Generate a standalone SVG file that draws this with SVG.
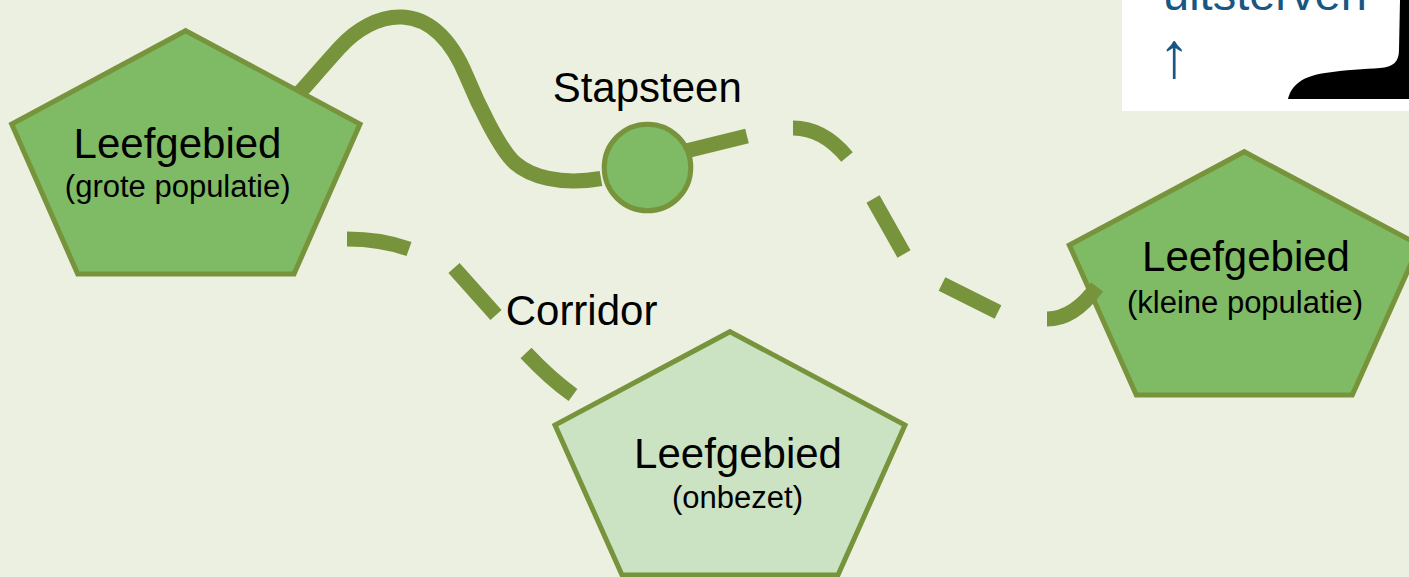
<svg xmlns="http://www.w3.org/2000/svg" width="1409" height="577" viewBox="0 0 1409 577">
<style>
.lbl{font-family:"Liberation Sans",Arial,sans-serif;fill:#000}
.big{font-size:42px}
.small{font-size:31px}
.pent{fill:#7FBA64;stroke:#77933C;stroke-width:5;stroke-linejoin:miter}
.pent.empty{fill:#CBE3C2}
.conn{fill:none;stroke:#77933C;stroke-width:15;stroke-linecap:butt}
.inset{font-family:"Liberation Sans",Arial,sans-serif;fill:#195782}
</style>
<rect x="0" y="0" width="1409" height="577" fill="#EBF0E0"/>
<g id="inset">
<rect x="1122" y="-5" width="300" height="116" fill="#FFFFFF"/>
<path d="M 1400,0 L 1409,0 L 1409,99 L 1288,99 C 1291,88 1298,77 1325,73 C 1345,70 1365,69 1380,68 C 1393,67 1399,62 1399,50 Z" fill="#000"/>
<text class="inset" x="1163" y="10" font-size="47">uitsterven</text>
<text class="inset" x="1158" y="76.5" font-size="64">↑</text>
</g>
<g id="node-klein">
<polygon class="pent" points="1244.3,151.7 1419.3,245 1352.3,395 1136.3,395 1069.3,245"/>
<text class="lbl big" x="1246" y="270.7" text-anchor="middle">Leefgebied</text>
<text class="lbl small" x="1245" y="313" text-anchor="middle">(kleine populatie)</text>
</g>
<g id="node-onbezet">
<polygon class="pent empty" points="730,331.7 905,425 838,575 622,575 555,425"/>
<text class="lbl big" x="738" y="468.3" text-anchor="middle">Leefgebied</text>
<text class="lbl small" x="737.5" y="508" text-anchor="middle">(onbezet)</text>
</g>
<g id="node-stapsteen">
<circle cx="647.5" cy="167.5" r="43.3" fill="#7FBA64" stroke="#77933C" stroke-width="5"/>
<text class="lbl big" x="552.7" y="101.7">Stapsteen</text>
</g>
<g id="connectors">
<path class="conn" d="M 292,100 L 302.7,89.3 C 311,80 328,60.5 340,47.3 C 372,12 432,-8 466.7,76.7 C 477,102 500,150 515,163 C 530,176 560,186 601,178.5"/>
<path class="conn" d="M 686,151 L 747,136"/>
<path class="conn" d="M 793,128 Q 823,128 847,157 M 873,199 L 904,254 M 942,284 L 998,312 M 1047,319 Q 1074,319 1097,287"/>
<path class="conn" d="M 347,239 Q 381,239 409,249 M 454,268 L 496,315 M 526,353 Q 550.5,379 573,395"/>
<text class="lbl big" x="505.7" y="325">Corridor</text>
</g>
<g id="node-groot">
<polygon class="pent" points="185.7,30.7 360,124 294,274 77.7,274 11.7,124"/>
<text class="lbl big" x="177.5" y="158.3" text-anchor="middle">Leefgebied</text>
<text class="lbl small" x="177.7" y="197" text-anchor="middle">(grote populatie)</text>
</g>
</svg>
